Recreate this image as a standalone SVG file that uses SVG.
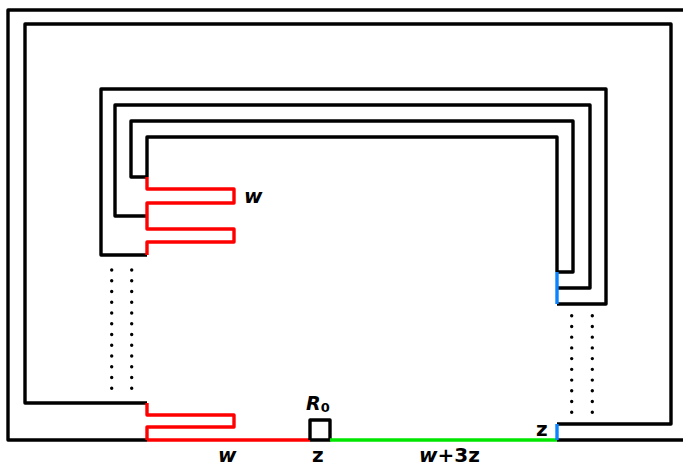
<svg xmlns="http://www.w3.org/2000/svg" width="683" height="467" viewBox="0 0 683 467">
  <style>
    .w { fill: none; stroke-width: 3.4; stroke-linejoin: round; stroke-linecap: butt; }
    .k { stroke: #000; }
    .r { stroke: #ff0000; }
    .g { stroke: #00e600; }
    .b { stroke: #0a84ff; }
    .dots { fill: none; stroke: #000; stroke-width: 3.4; stroke-linecap: round; }
    .lbl { font-family: "DejaVu Sans", sans-serif; font-weight: bold; fill: #000; }
    .it { font-style: oblique; }
  </style>
  <rect width="683" height="467" fill="#fff"/>

  <!-- outer frame and bottom rail -->
  <g id="outer-frame">
    <path class="w k" d="M683,10 H8 V440 H147"/>
    <path class="w r" d="M147,440 H310"/>
    <path class="w k" d="M310,440 V420 H330 V440 H310"/>
    <path class="w g" d="M330,440 H557"/>
    <path class="w k" d="M557,440 H683"/>
  </g>

  <!-- second loop with lower comb -->
  <g id="loop-2">
    <path class="w k" d="M147,403 H25 V24 H671 V424 H557"/>
    <path class="w b" d="M557,424 V440"/>
    <path class="w r" d="M147,403 V415 H234 V427 H147 V440"/>
  </g>

  <!-- nested inner loops -->
  <g id="loop-3">
    <path class="w k" d="M147,255 H101 V89 H606 V304 H557"/>
  </g>
  <g id="loop-4">
    <path class="w k" d="M147,216 H115 V105 H590 V288 H557"/>
  </g>
  <g id="loop-5">
    <path class="w k" d="M147,177 H131 V121 H573 V272 H557"/>
  </g>
  <g id="loop-6">
    <path class="w k" d="M147,177 V137 H557 V272"/>
  </g>

  <!-- upper comb and right blue segment -->
  <g id="upper-comb">
    <path class="w r" d="M147,177 V189 H234 V203 H147 V229 H234 V242 H147 V255"/>
    <path class="w b" d="M557,272 V304"/>
  </g>

  <!-- continuation dots -->
  <g id="connectors">
    <path class="dots" stroke-dasharray="0 10.75" d="M111.7,270 V390"/>
    <path class="dots" stroke-dasharray="0 10.75" d="M131.7,270 V390"/>
    <path class="dots" stroke-dasharray="0 10.73" d="M571.7,315.7 V413"/>
    <path class="dots" stroke-dasharray="0 10.73" d="M592.3,315.7 V413"/>
  </g>

  <!-- labels -->
  <g id="labels">
    <text class="lbl it" x="244" y="203" font-size="20">w</text>
    <text class="lbl" x="306" y="410" font-size="19"><tspan class="it">R</tspan><tspan font-size="13" dy="2">0</tspan></text>
    <text class="lbl" x="536" y="436" font-size="20">z</text>
    <text class="lbl it" x="218" y="462" font-size="20">w</text>
    <text class="lbl" x="312" y="462" font-size="20">z</text>
    <text class="lbl" x="419" y="462" font-size="20"><tspan class="it">w</tspan>+3z</text>
  </g>
</svg>
